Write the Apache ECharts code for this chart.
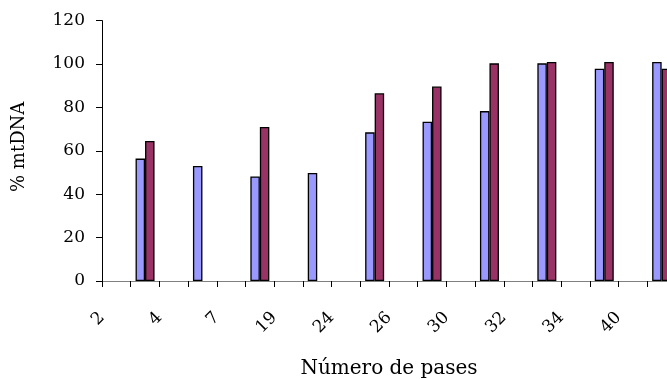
<!DOCTYPE html>
<html>
<head>
<meta charset="utf-8">
<script src="https://cdn.jsdelivr.net/npm/echarts@6/dist/echarts.min.js"></script>
<style>
  html, body { margin: 0; padding: 0; background: #fff; }
  #chart { width: 667px; height: 379px; }
</style>
</head>
<body>
<div id="chart"></div>
<script>
// Passage numbers along the x axis
var passages = ['2', '4', '7', '19', '24', '26', '30', '32', '34', '40'];
// % mtDNA, first series (blue)
var seriesA = [56.4, 53, 48.2, 49.8, 68.5, 73.4, 78.3, 100.3, 97.8, 100.9];
// % mtDNA, second series (purple); null where no measurement
var seriesB = [64.5, null, 71, null, 86.5, 89.6, 100.3, 100.9, 100.9, 97.8];
// Y axis ticks
var yTicks = { min: 0, max: 120, step: 20 };

// Each passage takes two slots on the bar axis: its label sits on the
// left boundary, its bars in the second slot.
var slots = [], dataA = [], dataB = [];
passages.forEach(function (p, i) {
  slots.push('a' + i, 'b' + i);
  dataA.push(null, seriesA[i]);
  dataB.push(null, seriesB[i]);
});

var FONT = 'DejaVu Serif';
var chart = echarts.init(document.getElementById('chart'), null, { renderer: 'canvas' });

chart.setOption({
  animation: false,
  backgroundColor: '#ffffff',
  grid: { left: 102, top: 20.6, width: 574, height: 260.4, containLabel: false, outerBoundsMode: 'none' },
  xAxis: [
    {
      // bar slots and ticks
      type: 'category',
      data: slots,
      boundaryGap: true,
      position: 'bottom',
      axisLine: { show: true, lineStyle: { color: '#808080', width: 1 } },
      axisTick: { show: true, interval: 0, length: 6, lineStyle: { color: '#000', width: 1 } },
      axisLabel: { show: false },
      splitLine: { show: false },
      name: 'Número de pases',
      nameLocation: 'middle',
      nameGap: 78,
      nameMoveOverlap: false,
      nameTextStyle: { fontFamily: FONT, fontSize: 20, color: '#000' }
    },
    {
      // passage labels on every second slot boundary
      type: 'value',
      min: 0,
      max: slots.length,
      interval: 2,
      position: 'bottom',
      axisLine: { show: false },
      axisTick: { show: false },
      splitLine: { show: false },
      axisLabel: {
        show: true,
        rotate: 45,
        margin: 34,
        showMaxLabel: false,
        fontFamily: FONT,
        fontSize: 17,
        color: '#000',
        formatter: function (v) {
          var p = passages[Math.round(v / 2)];
          return p === undefined ? '' : p;
        }
      }
    }
  ],
  yAxis: {
    type: 'value',
    min: yTicks.min,
    max: yTicks.max,
    interval: yTicks.step,
    axisLine: { show: true, lineStyle: { color: '#000', width: 1 } },
    axisTick: { show: true, length: 6, lineStyle: { color: '#000', width: 1 } },
    axisLabel: { margin: 17, fontFamily: FONT, fontSize: 17, color: '#000' },
    splitLine: { show: false },
    name: '% mtDNA',
    nameLocation: 'middle',
    nameGap: 74,
    nameMoveOverlap: false,
    nameTextStyle: { fontFamily: FONT, fontSize: 18, color: '#000', padding: [0, 0, 0, 8] }
  },
  series: [
    {
      type: 'bar',
      xAxisIndex: 0,
      data: dataA,
      barWidth: 9.5,
      barGap: '0%',
      itemStyle: { color: '#9999FF', borderColor: '#000', borderWidth: 1.3 }
    },
    {
      type: 'bar',
      xAxisIndex: 0,
      data: dataB,
      barWidth: 9.5,
      barGap: '0%',
      itemStyle: { color: '#993366', borderColor: '#000', borderWidth: 1.3 }
    }
  ]
});
</script>
</body>
</html>
